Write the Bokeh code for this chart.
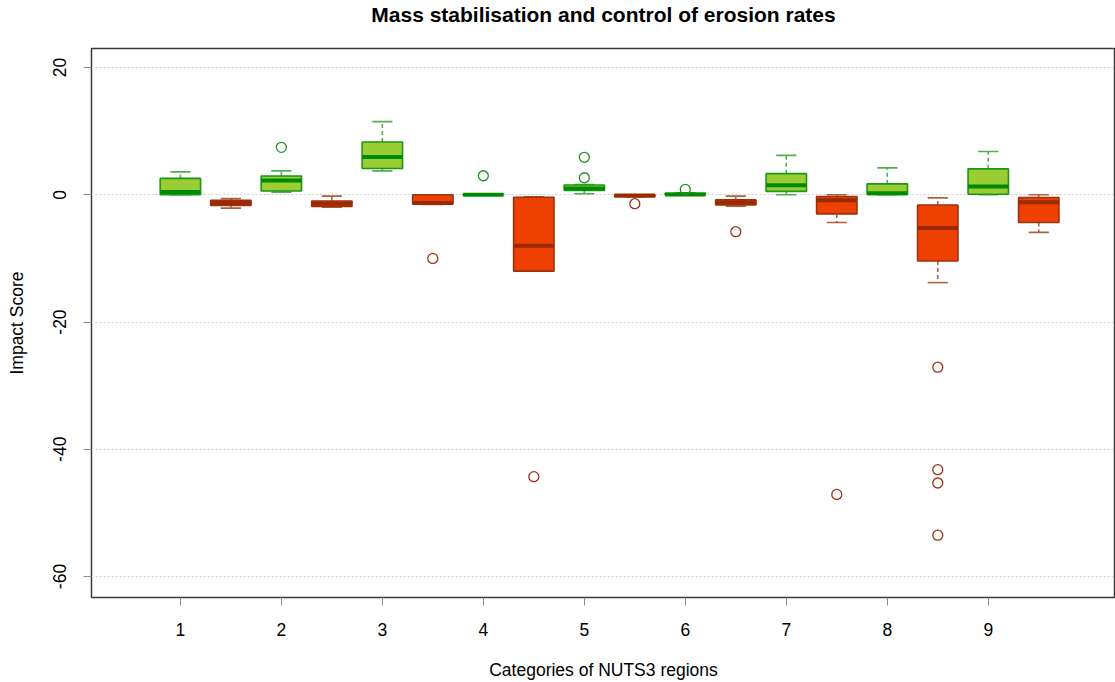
from bokeh.embed import file_html
from bokeh.models import ColumnDataSource, Range1d, Title
from bokeh.plotting import figure
from bokeh.resources import INLINE

# chart texts
TITLE = "Mass stabilisation and control of erosion rates"
X_LABEL = "Categories of NUTS3 regions"
Y_LABEL = "Impact Score"

# categories (green boxes at the category, red boxes half a step right)
categories = [1, 2, 3, 4, 5, 6, 7, 8, 9]
y_ticks = [-60, -40, -20, 0, 20]

# green group: box statistics per category
green_low = [0.0, 0.43, 3.76, 0.0, 0.16, 0.0, 0.0, 0.0, 0.0]
green_q1 = [0.0, 0.6, 4.13, 0.0, 0.7, 0.0, 0.54, 0.05, 0.1]
green_median = [0.43, 2.25, 5.96, 0.0, 1.0, 0.05, 1.5, 0.26, 1.29]
green_q3 = [2.58, 2.95, 8.3, 0.1, 1.55, 0.25, 3.33, 1.72, 4.08]
green_high = [3.6, 3.76, 11.5, 0.1, 1.6, 0.3, 6.2, 4.24, 6.8]
green_outliers = [[], [7.46], [], [3.0], [5.9, 2.68], [0.85], [], [], []]

# red group: box statistics per category
red_low = [-2.1, -1.93, -1.5, -12.0, -0.3, -1.77, -4.35, -13.8, -5.9]
red_q1 = [-1.67, -1.82, -1.45, -12.0, -0.3, -1.6, -3.0, -10.4, -4.35]
red_median = [-1.3, -1.4, -1.3, -8.0, -0.1, -1.2, -0.86, -5.2, -1.18]
red_q3 = [-0.86, -0.97, 0.0, -0.38, 0.0, -0.8, -0.27, -1.6, -0.43]
red_high = [-0.6, -0.2, 0.0, -0.3, 0.0, -0.2, 0.0, -0.48, 0.0]
red_outliers = [[], [], [-10.0], [-44.3], [-1.4], [-5.8], [-47.1],
                [-27.1, -43.2, -45.3, -53.5], []]

FONT = "Liberation Sans"
BOX_WIDTH = 0.4
CAP_WIDTH = 0.2

p = figure(
    width=1115,
    height=682,
    x_range=Range1d(0.12, 10.26),
    y_range=Range1d(-63.3, 23.0),
    output_backend="svg",
    toolbar_location=None,
    tools="",
    min_border_left=91,
    min_border_right=0,
    min_border_top=0,
    min_border_bottom=84,
    background_fill_color="white",
    border_fill_color="white",
)


def draw_boxes(pos, low, q1, med, q3, high, outliers,
               fill, line, median_color, whisker_color):
    """draw one group of boxplots from its statistics"""
    src = ColumnDataSource(dict(
        x=pos,
        box_l=[x - BOX_WIDTH / 2 for x in pos],
        box_r=[x + BOX_WIDTH / 2 for x in pos],
        cap_l=[x - CAP_WIDTH / 2 for x in pos],
        cap_r=[x + CAP_WIDTH / 2 for x in pos],
        low=low, q1=q1, med=med, q3=q3, high=high,
    ))

    # dashed whiskers and caps
    p.segment(x0="x", y0="q3", x1="x", y1="high", source=src,
              line_color=whisker_color, line_width=1.6, line_dash="4 3")
    p.segment(x0="x", y0="q1", x1="x", y1="low", source=src,
              line_color=whisker_color, line_width=1.6, line_dash="4 3")
    p.segment(x0="cap_l", y0="high", x1="cap_r", y1="high", source=src,
              line_color=whisker_color, line_width=1.6)
    p.segment(x0="cap_l", y0="low", x1="cap_r", y1="low", source=src,
              line_color=whisker_color, line_width=1.6)

    # boxes
    p.vbar(x="x", width=BOX_WIDTH, bottom="q1", top="q3", source=src,
           fill_color=fill, line_color=line, line_width=1.6)

    # medians
    p.segment(x0="box_l", y0="med", x1="box_r", y1="med", source=src,
              line_color=median_color, line_width=4)

    # outliers
    ox = [x for x, outs in zip(pos, outliers) for _ in outs]
    oy = [v for outs in outliers for v in outs]
    p.scatter(ox, oy, marker="circle", size=10, fill_color=None,
              line_color=line, line_width=1.3)


draw_boxes(categories, green_low, green_q1, green_median, green_q3,
           green_high, green_outliers,
           "#9acd32", "#1a961a", "#008a00", "#4fae4f")
draw_boxes([c + 0.5 for c in categories], red_low, red_q1, red_median,
           red_q3, red_high, red_outliers,
           "#ee4000", "#9b3210", "#9b2a00", "#b0603f")

# title on top, an empty spacer title between it and the frame
p.title.text = TITLE
p.title.align = "center"
p.title.offset = 4
p.title.standoff = 0
p.title.text_font = FONT
p.title.text_font_size = "21px"
p.title.text_font_style = "bold"
p.title.text_line_height = 1.9
p.title.text_color = "black"
p.add_layout(Title(text=" ", text_font_size="19px", standoff=0), "above")

# grid: only horizontal dotted lines
p.xgrid.visible = False
p.ygrid.ticker = y_ticks
p.ygrid.grid_line_color = "#cfcfcf"
p.ygrid.grid_line_dash = "2 2"
p.ygrid.grid_line_width = 1

# frame
p.outline_line_color = "#3a3a3a"
p.outline_line_width = 1.5

# axes
p.xaxis.ticker = categories
p.yaxis.ticker = y_ticks
p.yaxis.major_label_overrides = {t: str(t) for t in y_ticks}
p.yaxis.major_label_orientation = "vertical"
p.xaxis.axis_label = X_LABEL
p.yaxis.axis_label = Y_LABEL
for ax in (p.xaxis, p.yaxis):
    ax.axis_line_color = None
    ax.major_tick_in = 0
    ax.major_tick_out = 8
    ax.major_tick_line_color = "#8c8c8c"
    ax.minor_tick_line_color = None
    ax.major_label_text_font = FONT
    ax.major_label_text_font_size = "17.5px"
    ax.major_label_text_color = "black"
    ax.axis_label_text_font = FONT
    ax.axis_label_text_font_size = "17.5px"
    ax.axis_label_text_font_style = "normal"
    ax.axis_label_text_color = "black"
p.xaxis.major_label_standoff = 17
p.xaxis.axis_label_standoff = 21
p.yaxis.major_label_standoff = 17
p.yaxis.axis_label_standoff = 24

open("out.html", "w").write(file_html(p, INLINE))
